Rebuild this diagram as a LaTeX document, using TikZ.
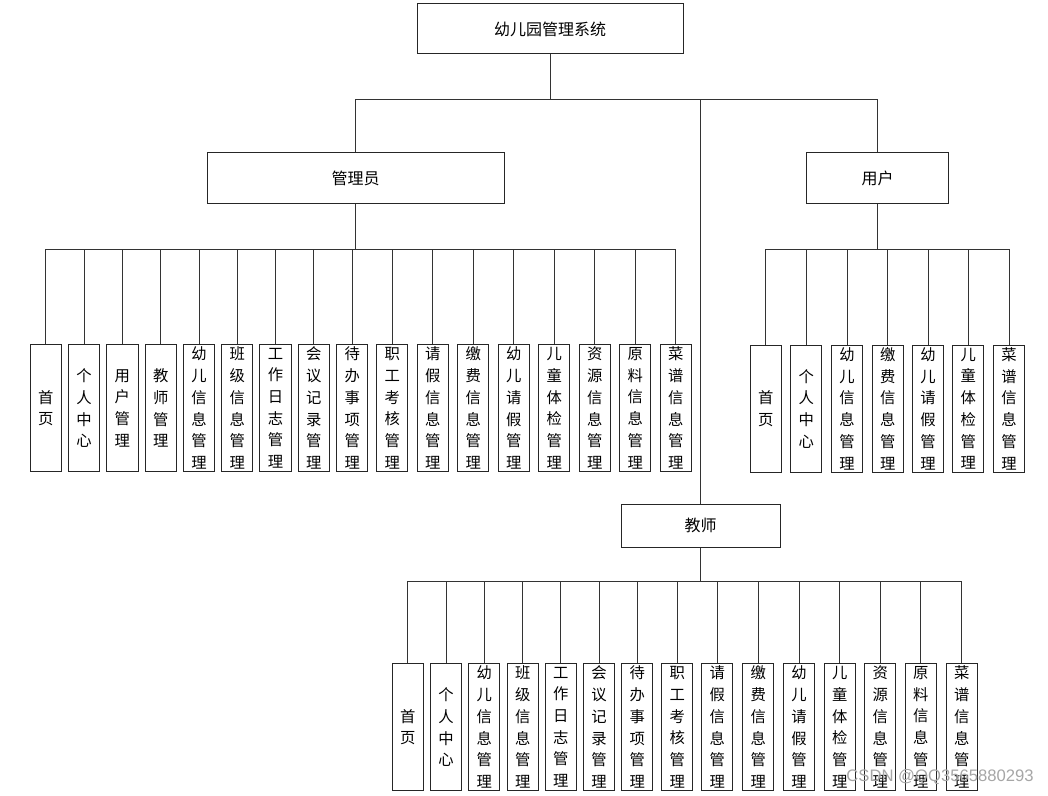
\documentclass[tikz,border=0pt]{standalone}
\usepackage{fontspec}
\setmainfont{Noto Sans CJK SC}
\newfontfamily\markfont{Liberation Sans}
\usetikzlibrary{positioning}

\tikzset{
  sysbox/.style={draw=black!85, line width=0.75pt, minimum width=199.5pt, minimum height=37.5pt, inner sep=0pt, font=\fontsize{12pt}{14pt}\selectfont},
  rolebox/.style={draw=black!85, line width=0.75pt, minimum height=37.5pt, inner sep=0pt, font=\fontsize{12pt}{14pt}\selectfont},
  funcbox/.style={draw=black!85, line width=0.75pt, anchor=north, minimum width=23.5pt, minimum height=95.5pt, inner sep=0pt, align=center, font=\fontsize{11.5pt}{16.3pt}\selectfont},
  link/.style={draw=black!80, line width=0.75pt}
}

\begin{document}
\begin{tikzpicture}[x=0.75pt, y=-0.75pt]
    \useasboundingbox (0,0) rectangle (1048,795);

    % top levels
    \node[sysbox] (sys) at (550,29) {幼儿园管理系统};
    \node[rolebox, minimum width=222.75pt] (admin) at (355.5,178) {管理员};
    \node[rolebox, minimum width=106.2pt] (user) at (877.5,178) {用户};
    \node[rolebox, minimum width=119.25pt, minimum height=32.25pt] (teacher) at (700.5,525.5) {教师};

    \coordinate (sysbar) at (550,100);
    \coordinate (adminbar) at (355.5,249.5);
    \coordinate (userbar) at (877.5,249.5);
    \coordinate (teacherbar) at (700.5,581.5);

    \draw[link] (sys.south) -- (sysbar);
    \draw[link] (admin.north) |- (sysbar);
    \draw[link] (user.north) |- (sysbar);
    \draw[link] (teacher.north) |- (sysbar);
    \draw[link] (admin.south) -- (adminbar);
    \draw[link] (user.south) -- (userbar);
    \draw[link] (teacher.south) -- (teacherbar);

    % admin functions
    \foreach \x/\t [count=\i] in {45.8/{首\\页}, 84.1/{个\\人\\中\\心}, 122.4/{用\\户\\管\\理}, 160.7/{教\\师\\管\\理},
        199/{幼\\儿\\信\\息\\管\\理}, 237.3/{班\\级\\信\\息\\管\\理}, 275.6/{工\\作\\日\\志\\管\\理},
        313.9/{会\\议\\记\\录\\管\\理}, 352.2/{待\\办\\事\\项\\管\\理}, 392.3/{职\\工\\考\\核\\管\\理},
        432.8/{请\\假\\信\\息\\管\\理}, 473.3/{缴\\费\\信\\息\\管\\理}, 513.8/{幼\\儿\\请\\假\\管\\理},
        554.3/{儿\\童\\体\\检\\管\\理}, 594.8/{资\\源\\信\\息\\管\\理}, 635.3/{原\\料\\信\\息\\管\\理},
        675.8/{菜\\谱\\信\\息\\管\\理}} {
        \node[funcbox] (a\i) at (\x,344) {\t};
        \draw[link] (a\i.north) |- (adminbar);
    }

    % user functions
    \foreach \x/\t [count=\i] in {765.7/{首\\页}, 806.3/{个\\人\\中\\心}, 847/{幼\\儿\\信\\息\\管\\理},
        887.7/{缴\\费\\信\\息\\管\\理}, 928/{幼\\儿\\请\\假\\管\\理}, 968.3/{儿\\童\\体\\检\\管\\理},
        1009/{菜\\谱\\信\\息\\管\\理}} {
        \node[funcbox] (u\i) at (\x,344.5) {\t};
        \draw[link] (u\i.north) |- (userbar);
    }

    % teacher functions
    \foreach \x/\t [count=\i] in {407.7/{首\\页}, 446/{个\\人\\中\\心}, 484.3/{幼\\儿\\信\\息\\管\\理},
        522.7/{班\\级\\信\\息\\管\\理}, 560.7/{工\\作\\日\\志\\管\\理}, 599/{会\\议\\记\\录\\管\\理},
        637.3/{待\\办\\事\\项\\管\\理}, 677.3/{职\\工\\考\\核\\管\\理}, 717.3/{请\\假\\信\\息\\管\\理},
        758.3/{缴\\费\\信\\息\\管\\理}, 799/{幼\\儿\\请\\假\\管\\理}, 839.7/{儿\\童\\体\\检\\管\\理},
        880.3/{资\\源\\信\\息\\管\\理}, 920.7/{原\\料\\信\\息\\管\\理}, 961.7/{菜\\谱\\信\\息\\管\\理}} {
        \node[funcbox] (t\i) at (\x,663) {\t};
        \draw[link] (t\i.north) |- (teacherbar);
    }

    \node[anchor=east, text=black!35, font=\markfont\fontsize{12.5pt}{14pt}\selectfont, inner sep=0pt] (mark) at (1034,777) {CSDN @QQ3565880293};
\end{tikzpicture}
\end{document}
